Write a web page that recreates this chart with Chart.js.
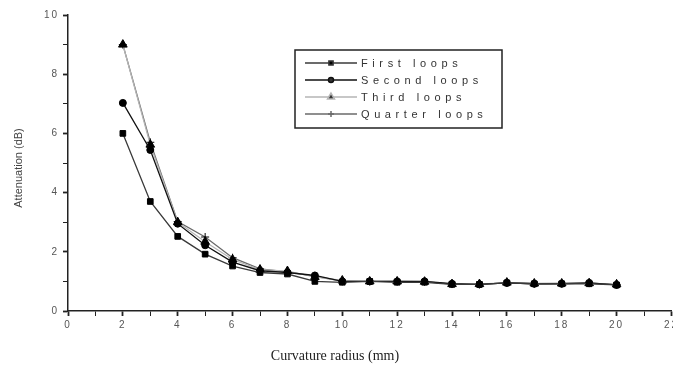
<!DOCTYPE html>
<html lang="en">
<head>
    <meta charset="UTF-8">
    <title>Attenuation vs curvature radius</title>
    <script src="https://cdn.jsdelivr.net/npm/chart.js"></script>
    <style>
        body { margin: 0; background: #fff; overflow: hidden; }
        #wrap { width: 673px; height: 369px; overflow: hidden; }
    </style>
</head>
<body>
    <div id="wrap"><canvas id="myChart" width="680" height="369"></canvas></div>

    <script>
        // curvature radius (mm)
        const radius = [2, 3, 4, 5, 6, 7, 8, 9, 10, 11, 12, 13, 14, 15, 16, 17, 18, 19, 20];
        // attenuation (dB) per loop count
        const firstLoops   = [6.0, 3.7, 2.52, 1.92, 1.52, 1.3, 1.25, 1.0, 0.97, 1.0, 0.97, 0.97, 0.9, 0.9, 0.95, 0.92, 0.92, 0.92, 0.88];
        const secondLoops  = [7.03, 5.44, 2.95, 2.22, 1.65, 1.36, 1.3, 1.2, 1.0, 1.0, 1.0, 1.0, 0.92, 0.9, 0.95, 0.92, 0.92, 0.95, 0.88];
        const thirdLoops   = [9.0, 5.62, 3.0, 2.34, 1.74, 1.4, 1.35, 1.15, 1.03, 1.0, 1.0, 0.99, 0.91, 0.91, 0.96, 0.93, 0.93, 0.94, 0.9];
        const quarterLoops = [9.0, 5.7, 3.02, 2.5, 1.8, 1.42, 1.32, 1.17, 1.01, 1.0, 1.0, 0.99, 0.91, 0.9, 0.95, 0.92, 0.93, 0.94, 0.89];
        const seriesNames = ['First loops', 'Second loops', 'Third loops', 'Quarter loops'];

        const xTicks = [0, 2, 4, 6, 8, 10, 12, 14, 16, 18, 20, 22];
        const yTicks = [0, 2, 4, 6, 8, 10];

        function pts(ys) {
            return radius.map((x, i) => ({ x: x, y: ys[i] }));
        }

        function makeSet(label, ys, color, style, r) {
            return {
                label: label,
                data: pts(ys),
                borderColor: color,
                borderWidth: 1.3,
                pointStyle: style,
                pointRadius: r,
                pointBackgroundColor: '#000',
                pointBorderColor: '#000',
                pointBorderWidth: 1,
                tension: 0,
                fill: false
            };
        }

        // spaced-out text like the original plot
        const spacing = {
            id: 'spacing',
            beforeDraw(chart) {
                chart.ctx.letterSpacing = '2px';
            },
            afterDraw(chart) {
                const ctx = chart.ctx;
                const area = chart.chartArea;
                ctx.save();

                // legend box
                const bx = area.left + 227, by = 50, bw = 207, bh = 78;
                ctx.letterSpacing = '4.6px';
                ctx.strokeStyle = '#222';
                ctx.lineWidth = 1.5;
                ctx.strokeRect(bx, by, bw, bh);
                ctx.font = '11px Arial, "Liberation Sans", sans-serif';
                ctx.textBaseline = 'middle';
                chart.data.datasets.forEach((ds, i) => {
                    const y = by + 13 + i * 17;
                    ctx.strokeStyle = ds.borderColor;
                    ctx.lineWidth = 1.5;
                    ctx.beginPath();
                    ctx.moveTo(bx + 10, y);
                    ctx.lineTo(bx + 62, y);
                    ctx.stroke();
                    Chart.helpers.drawPoint(ctx, {
                        pointStyle: ds.pointStyle,
                        radius: ds.pointRadius - 1,
                        borderWidth: 1
                    }, bx + 36, y);
                    ctx.fillStyle = '#333';
                    ctx.fillText(ds.label, bx + 66, y + 1);
                });

                // x axis title
                ctx.letterSpacing = '0px';
                ctx.fillStyle = '#222';
                ctx.font = '14px "Liberation Serif", "Times New Roman", serif';
                ctx.textAlign = 'center';
                ctx.fillText('Curvature radius (mm)', 335, 356);

                // y axis title
                ctx.translate(19, 168);
                ctx.rotate(-Math.PI / 2);
                ctx.font = '11px Arial, "Liberation Sans", sans-serif';
                ctx.fillStyle = '#444';
                ctx.fillText('Attenuation (dB)', 0, 0);
                ctx.restore();
            }
        };

        const tickFont = { family: 'Arial, "Liberation Sans", sans-serif', size: 10 };

        const ctx = document.getElementById('myChart').getContext('2d');
        const myChart = new Chart(ctx, {
            type: 'line',
            data: {
                datasets: [
                    makeSet(seriesNames[0], firstLoops, '#3a3a3a', 'rect', 4),
                    makeSet(seriesNames[1], secondLoops, '#111', 'circle', 3.5),
                    makeSet(seriesNames[2], thirdLoops, '#b5b5b5', 'triangle', 5),
                    makeSet(seriesNames[3], quarterLoops, '#6a6a6a', 'cross', 4)
                ]
            },
            options: {
                responsive: false,
                animation: false,
                layout: { padding: { top: 15, right: 0, left: 0, bottom: 0 } },
                plugins: {
                    legend: { display: false },
                    tooltip: { enabled: false }
                },
                scales: {
                    x: {
                        type: 'linear',
                        min: 0,
                        max: 22,
                        afterFit: s => { s.height = 58; },
                        border: { display: true, color: '#222', width: 1.5 },
                        grid: {
                            drawOnChartArea: false,
                            tickLength: 5,
                            tickColor: '#222',
                            tickWidth: c => (xTicks.includes(c.tick.value) ? 1.8 : 1)
                        },
                        ticks: {
                            stepSize: 1,
                            autoSkip: false,
                            maxRotation: 0,
                            color: '#555',
                            font: tickFont,
                            padding: 3,
                            callback: v => (xTicks.includes(v) ? String(v) : '')
                        }
                    },
                    y: {
                        min: 0,
                        max: 10,
                        afterFit: s => { s.width = 68; },
                        border: { display: true, color: '#222', width: 1.5 },
                        grid: {
                            drawOnChartArea: false,
                            tickLength: 5,
                            tickColor: '#222',
                            tickWidth: c => (yTicks.includes(c.tick.value) ? 1.8 : 1)
                        },
                        ticks: {
                            stepSize: 1,
                            color: '#555',
                            font: tickFont,
                            padding: 4,
                            callback: v => (yTicks.includes(v) ? String(v) : '')
                        }
                    }
                }
            },
            plugins: [spacing]
        });
    </script>
</body>
</html>
